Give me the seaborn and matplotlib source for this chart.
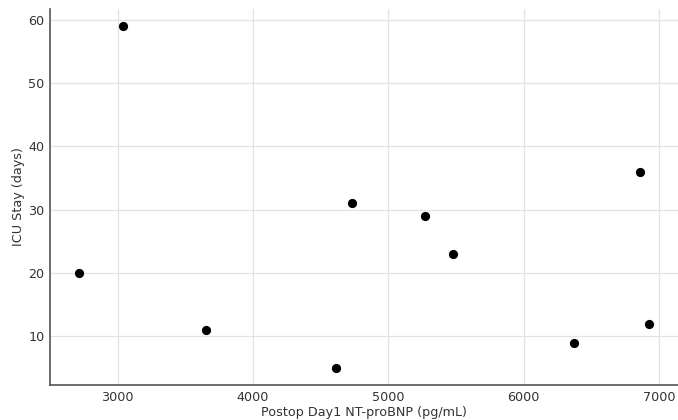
import matplotlib
matplotlib.use("Agg")
import matplotlib.pyplot as plt
import seaborn as sns
import pandas as pd

ntprobnp = [2710, 3035, 3655, 4612, 4730, 5270, 5475, 6372, 6860, 6930]
icu_stay = [20, 59, 11, 5, 31, 29, 23, 9, 36, 12]

df = pd.DataFrame({"x": ntprobnp, "y": icu_stay})

sns.set_theme(style="whitegrid")
plt.rcParams['font.family'] = ['DejaVu Sans']

fig, ax = plt.subplots(figsize=(6.78, 4.2), dpi=100)
fig.subplots_adjust(left=50/678, right=1.0, top=1 - 9/420, bottom=1 - 385/420)

sns.scatterplot(data=df, x="x", y="y", ax=ax, color="black", s=44, edgecolor="black", linewidth=0)

ax.set_xlabel("Postop Day1 NT-proBNP (pg/mL)", fontsize=9.2, color="#333333", labelpad=2)
ax.set_ylabel("ICU Stay (days)", fontsize=9.2, color="#333333", labelpad=2)
ax.set_xticks([3000, 4000, 5000, 6000, 7000])
ax.set_yticks([10, 20, 30, 40, 50, 60])
ax.tick_params(direction="in", length=3, labelsize=9.2, colors="#333333", pad=4)
ax.grid(True, color="#e3e3e3", linewidth=0.9)
for s in ["top", "right"]:
    ax.spines[s].set_visible(False)
for s in ["left", "bottom"]:
    ax.spines[s].set_color("#555555")
    ax.spines[s].set_linewidth(1.2)
ax.set_facecolor("white")

fig.savefig("out.png", dpi=100)
